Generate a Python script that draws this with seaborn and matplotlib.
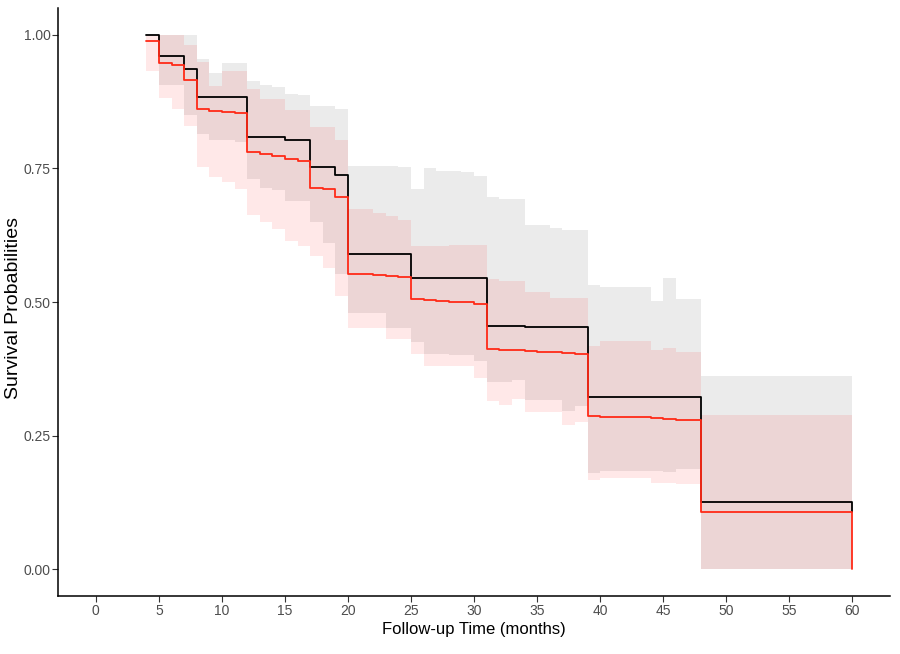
import matplotlib
matplotlib.use('Agg')
import matplotlib.pyplot as plt
import seaborn as sns
import pandas as pd
from matplotlib.ticker import FormatStrFormatter

sns.set_theme(style='ticks')
plt.rcParams['font.family'] = ['Liberation Sans', 'DejaVu Sans']

# step start times (months); last entry is the end of follow-up
months = [4, 5, 6, 7, 8, 9, 10, 11, 12, 13, 14, 15, 16, 17, 18, 19, 20, 21, 22, 23,
          24, 25, 26, 27, 28, 29, 30, 31, 32, 33, 34, 35, 36, 37, 38, 39, 40, 41, 42, 43,
          44, 45, 46, 47, 48, 60]

black_surv = [1.000, 0.961, 0.961, 0.936, 0.884, 0.884, 0.884, 0.884, 0.808, 0.808,
              0.808, 0.803, 0.803, 0.753, 0.753, 0.738, 0.589, 0.589, 0.589, 0.589,
              0.589, 0.545, 0.545, 0.545, 0.545, 0.545, 0.545, 0.455, 0.455, 0.455,
              0.453, 0.453, 0.453, 0.453, 0.453, 0.323, 0.323, 0.323, 0.323, 0.323,
              0.323, 0.323, 0.323, 0.323, 0.125, 0.107]
black_upper = [1.0, 1.0, 1.0, 1.0, 0.955, 0.928, 0.947, 0.947, 0.914, 0.906,
               0.902, 0.889, 0.887, 0.867, 0.867, 0.862, 0.754, 0.754, 0.754, 0.754,
               0.752, 0.711, 0.750, 0.746, 0.746, 0.744, 0.736, 0.697, 0.692, 0.692,
               0.644, 0.644, 0.639, 0.634, 0.634, 0.531, 0.528, 0.528, 0.528, 0.528,
               0.502, 0.545, 0.505, 0.505, 0.362]
black_lower = [1.0, 0.906, 0.906, 0.849, 0.814, 0.803, 0.803, 0.800, 0.730, 0.714,
               0.710, 0.689, 0.689, 0.649, 0.611, 0.552, 0.480, 0.480, 0.480, 0.452,
               0.452, 0.425, 0.403, 0.403, 0.400, 0.400, 0.389, 0.350, 0.350, 0.355,
               0.317, 0.317, 0.317, 0.297, 0.305, 0.180, 0.184, 0.184, 0.184, 0.184,
               0.184, 0.182, 0.187, 0.187, 0.0]

red_surv = [0.989, 0.947, 0.944, 0.916, 0.861, 0.858, 0.856, 0.853, 0.780, 0.777,
            0.774, 0.767, 0.764, 0.714, 0.712, 0.696, 0.553, 0.552, 0.550, 0.549,
            0.546, 0.505, 0.503, 0.502, 0.500, 0.500, 0.497, 0.413, 0.411, 0.410,
            0.409, 0.407, 0.406, 0.405, 0.403, 0.287, 0.285, 0.285, 0.285, 0.285,
            0.283, 0.281, 0.280, 0.280, 0.107, 0.0]
red_upper = [1.0, 1.0, 1.0, 0.980, 0.949, 0.905, 0.933, 0.933, 0.899, 0.880,
             0.880, 0.859, 0.860, 0.827, 0.827, 0.803, 0.674, 0.674, 0.667, 0.661,
             0.653, 0.605, 0.605, 0.605, 0.606, 0.606, 0.606, 0.543, 0.539, 0.539,
             0.518, 0.518, 0.508, 0.508, 0.508, 0.418, 0.428, 0.428, 0.428, 0.428,
             0.410, 0.414, 0.406, 0.406, 0.289]
red_lower = [0.933, 0.882, 0.861, 0.830, 0.753, 0.734, 0.724, 0.711, 0.663, 0.650,
             0.636, 0.614, 0.605, 0.586, 0.564, 0.511, 0.452, 0.452, 0.452, 0.430,
             0.430, 0.403, 0.380, 0.380, 0.380, 0.380, 0.358, 0.314, 0.308, 0.318,
             0.295, 0.295, 0.295, 0.270, 0.276, 0.167, 0.170, 0.170, 0.170, 0.170,
             0.162, 0.162, 0.160, 0.160, 0.0]

x_ticks = [0, 5, 10, 15, 20, 25, 30, 35, 40, 45, 50, 55, 60]
y_ticks = [0.0, 0.25, 0.5, 0.75, 1.0]

df = pd.concat([
    pd.DataFrame({'time': months, 'surv': black_surv, 'group': 'black'}),
    pd.DataFrame({'time': months, 'surv': red_surv, 'group': 'red'}),
])

fig = plt.figure(figsize=(9, 6.54), dpi=100)
ax = fig.add_axes([0.0645, 0.0887, 0.9245, 0.899])

# confidence ribbons (stepwise), last value carried to end of follow-up
ax.fill_between(months, black_lower + black_lower[-1:], black_upper + black_upper[-1:],
                step='post', color='black', alpha=0.078, linewidth=0)
ax.fill_between(months, red_lower + red_lower[-1:], red_upper + red_upper[-1:],
                step='post', color='red', alpha=0.09, linewidth=0)

sns.lineplot(data=df, x='time', y='surv', hue='group', estimator=None, sort=False,
             palette={'black': '#000000', 'red': '#ff2a17'}, drawstyle='steps-post',
             linewidth=1.3, legend=False, ax=ax)

ax.set_xlim(-3, 63)
ax.set_ylim(-0.05, 1.05)
ax.set_xticks(x_ticks)
ax.set_yticks(y_ticks)
ax.yaxis.set_major_formatter(FormatStrFormatter('%.2f'))
ax.tick_params(axis='both', labelsize=10, colors='#333333', labelcolor='#4d4d4d',
               length=4, width=0.8, pad=1.5)
ax.set_xlabel('Follow-up Time (months)', fontsize=12, color='black', labelpad=3)
ax.set_ylabel('Survival Probabilities', fontsize=14, color='black')
ax.yaxis.set_label_coords(-0.043, 0.49)
for side in ['top', 'right']:
    ax.spines[side].set_visible(False)
for side in ['left', 'bottom']:
    ax.spines[side].set_linewidth(1.1)
    ax.spines[side].set_color('black')

fig.savefig('out.png', dpi=100)
